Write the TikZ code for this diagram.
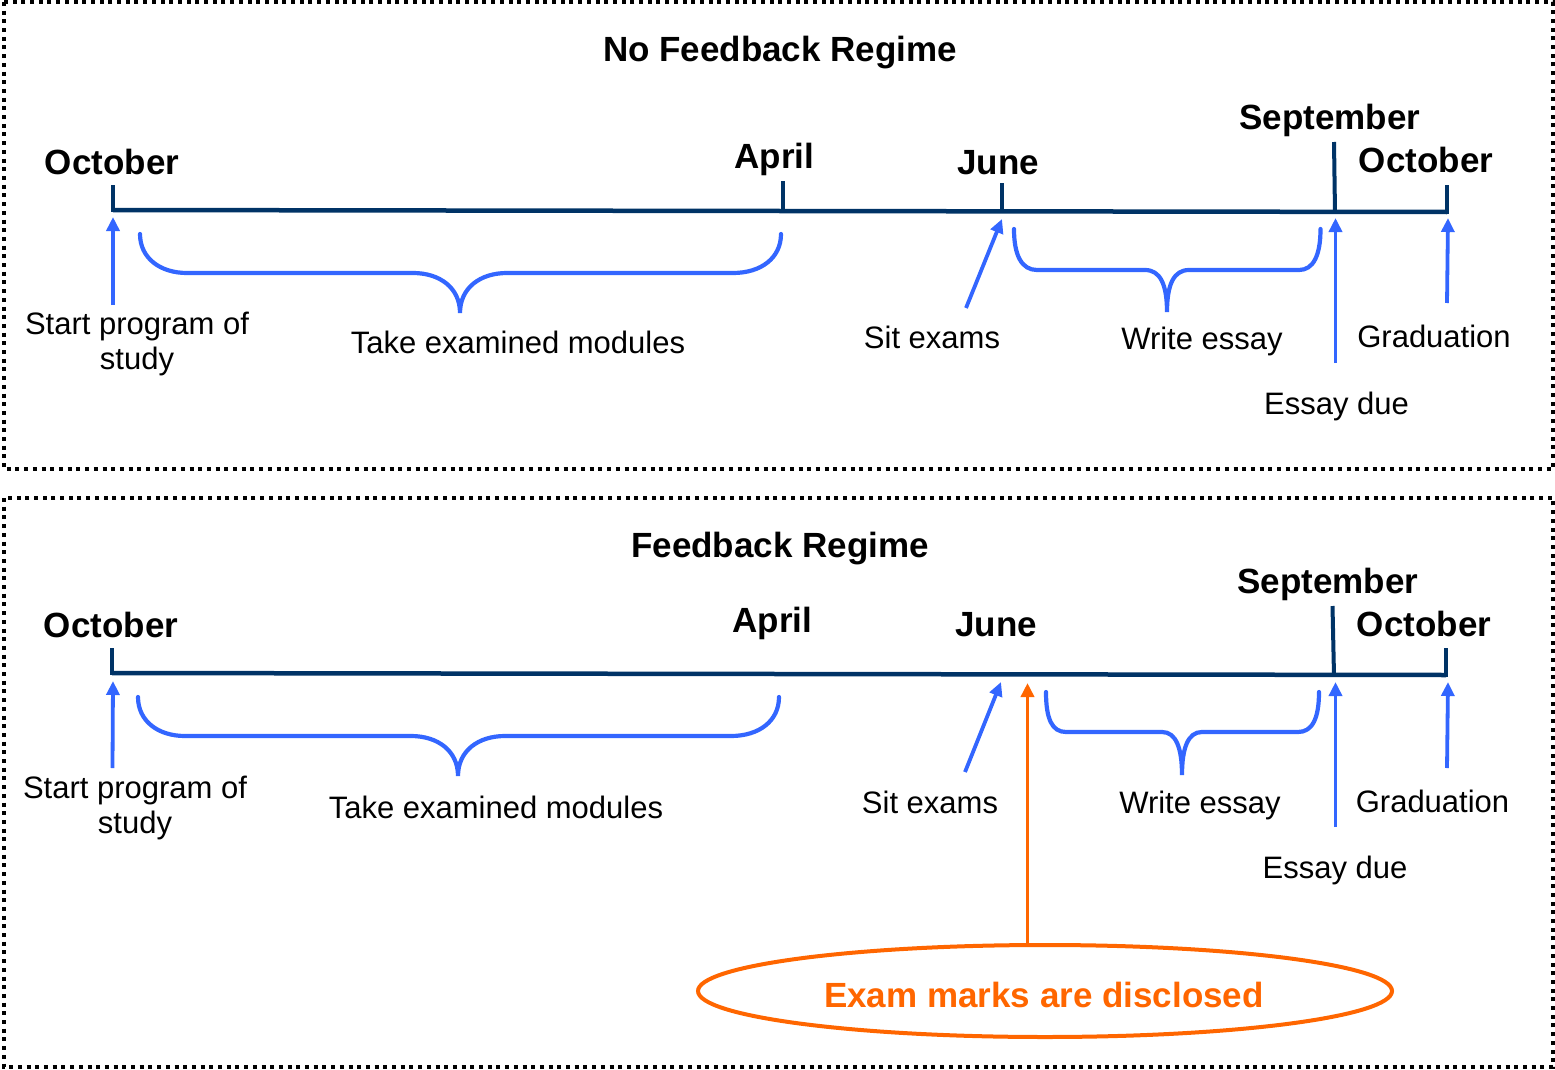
\documentclass[tikz,border=0pt]{standalone}
\usepackage{fontspec}
\setmainfont{Liberation Sans}
\usetikzlibrary{arrows.meta,shapes.geometric}
\definecolor{navy}{RGB}{0,51,102}
\definecolor{arrblue}{RGB}{51,102,255}
\definecolor{orng}{RGB}{255,102,0}
\tikzset{
  frame/.style={draw=black,line width=4pt,dash pattern=on 4pt off 4.7pt},
  tline/.style={draw=navy,line width=4.5pt},
  tick/.style={draw=navy,line width=4pt},
  month/.style={anchor=base,font=\fontsize{35}{40}\selectfont\bfseries,inner sep=0pt},
  title/.style={anchor=base,font=\fontsize{35}{40}\selectfont\bfseries,inner sep=0pt},
  lbl/.style={anchor=base,font=\fontsize{31}{35}\selectfont,inner sep=0pt,align=center},
  uparrow/.style={draw=arrblue,line width=3.8pt,-{Triangle[length=14pt,width=13pt]}},
  brace/.style={draw=arrblue,line width=4.2pt,line cap=round},
  oarrow/.style={draw=orng,line width=3.8pt,-{Triangle[length=14pt,width=13pt]}},
}
\begin{document}
\begin{tikzpicture}[x=1pt,y=-1pt]
\useasboundingbox (0,0) rectangle (1555,1070);
% frames
\draw[frame] (4,2) rectangle (1553,469);
\draw[frame] (4,498) rectangle (1553,1067);

% ================= TOP PANEL =================
\node[title] (t1) at (780,62) {No Feedback Regime};
\coordinate (aL) at (113,210);
\coordinate (aR) at (1447,212);
\draw[tline] (aL) -- (aR);
% ticks
\coordinate (oct1b) at (113,212); \coordinate (oct1t) at (113,185);
\coordinate (apr1b) at (783,211); \coordinate (apr1t) at (783,181);
\coordinate (jun1b) at (1002,212); \coordinate (jun1t) at (1002,183);
\coordinate (sep1b) at (1335,213); \coordinate (sep1t) at (1334,142);
\coordinate (oct2b) at (1447,214); \coordinate (oct2t) at (1447,185);
\draw[tick] (oct1b) -- (oct1t);
\draw[tick] (apr1b) -- (apr1t);
\draw[tick] (jun1b) -- (jun1t);
\draw[tick] (sep1b) -- (sep1t);
\draw[tick] (oct2b) -- (oct2t);
% month labels
\node[month] (m1a) at (112,175) {October};
\node[month] (m1b) at (774.5,168) {April};
\node[month] (m1c) at (998,174) {June};
\node[month] (m1d) at (1330,130) {September};
\node[month] (m1e) at (1426,172) {October};
% labels
\node[lbl] (s1) at (137,334) {Start program of};
\node[lbl] (s1b) at (137,369) {study};
\node[lbl] (tk1) at (518,353) {Take examined modules};
\node[lbl] (se1) at (932,348) {Sit exams};
\node[lbl] (we1) at (1202,349) {Write essay};
\node[lbl] (gr1) at (1434,347) {Graduation};
\node[lbl] (ed1) at (1336.5,414) {Essay due};
% arrows
\coordinate (pa1) at (113,305); \coordinate (qa1) at (113,217);
\coordinate (pb1) at (966,308); \coordinate (qb1) at (1002,219);
\coordinate (pc1) at (1335.5,363); \coordinate (qc1) at (1335.5,218);
\coordinate (pd1) at (1447,303); \coordinate (qd1) at (1448,218);
\draw[uparrow] (pa1) -- (qa1);
\draw[uparrow] (pb1) -- (qb1);
\draw[uparrow] (pc1) -- (qc1);
\draw[uparrow] (pd1) -- (qd1);
% braces
\draw[brace] (140,234) .. controls (140,258) and (160,273) .. (187,273) -- (413,273)
  .. controls (440,273) and (460,288) .. (460,313)
  .. controls (460,288) and (480,273) .. (507,273) -- (733,273)
  .. controls (761,273) and (781,258) .. (781,234);
\draw[brace] (1014,229) .. controls (1014,256) and (1022,270) .. (1037,270) -- (1145,270)
  .. controls (1160,270) and (1167,284) .. (1167,312)
  .. controls (1167,284) and (1174,270) .. (1189,270) -- (1299,270)
  .. controls (1313,270) and (1320.5,256) .. (1320.5,229);

% ================= BOTTOM PANEL =================
\node[title] (t2) at (780,557) {Feedback Regime};
\coordinate (bL) at (112,673);
\coordinate (bR) at (1446,675);
\draw[tline] (bL) -- (bR);
\coordinate (oct3b) at (112,675); \coordinate (oct3t) at (112,648);
\coordinate (sep2b) at (1334,676); \coordinate (sep2t) at (1332.5,606);
\coordinate (oct4b) at (1446,677); \coordinate (oct4t) at (1446,648);
\draw[tick] (oct3b) -- (oct3t);
\draw[tick] (sep2b) -- (sep2t);
\draw[tick] (oct4b) -- (oct4t);
\node[month] (m2a) at (111,637) {October};
\node[month] (m2b) at (772.5,632) {April};
\node[month] (m2c) at (996,636) {June};
\node[month] (m2d) at (1328,593) {September};
\node[month] (m2e) at (1424,636) {October};
\node[lbl] (s2) at (135,798) {Start program of};
\node[lbl] (s2b) at (135,833) {study};
\node[lbl] (tk2) at (496,818) {Take examined modules};
\node[lbl] (se2) at (930,813) {Sit exams};
\node[lbl] (we2) at (1200,813) {Write essay};
\node[lbl] (gr2) at (1432.5,812) {Graduation};
\node[lbl] (ed2) at (1335,878) {Essay due};
\coordinate (pa2) at (112.5,768); \coordinate (qa2) at (113,681);
\coordinate (pb2) at (965,772); \coordinate (qb2) at (1001,682);
\coordinate (pc2) at (1335.5,827); \coordinate (qc2) at (1335.5,682);
\coordinate (pd2) at (1447,768); \coordinate (qd2) at (1448,682);
\draw[uparrow] (pa2) -- (qa2);
\draw[uparrow] (pb2) -- (qb2);
\draw[uparrow] (pc2) -- (qc2);
\draw[uparrow] (pd2) -- (qd2);
\draw[brace] (138,697) .. controls (138,721) and (158,736) .. (185,736) -- (411,736)
  .. controls (438,736) and (458,751) .. (458,776)
  .. controls (458,751) and (478,736) .. (505,736) -- (731,736)
  .. controls (759,736) and (779,721) .. (779,697);
\draw[brace] (1046,692) .. controls (1046,719) and (1052,732) .. (1066,732) -- (1162,732)
  .. controls (1176,732) and (1182,748) .. (1182,775)
  .. controls (1182,748) and (1188,732) .. (1202,732) -- (1298,732)
  .. controls (1312,732) and (1319,719) .. (1319,692);
% ellipse and orange arrow
\node[ellipse,draw=orng,line width=4pt,minimum width=694pt,minimum height=92pt,inner sep=0pt] (em) at (1045,991) {};
\node[anchor=base,font=\fontsize{35}{40}\selectfont\bfseries,text=orng,inner sep=0pt] (emt) at (1044,1007) {Exam marks are disclosed};
\coordinate (oq) at (1027.5,683);
\draw[oarrow] (em.north -| oq) -- (oq);
\end{tikzpicture}
\end{document}
